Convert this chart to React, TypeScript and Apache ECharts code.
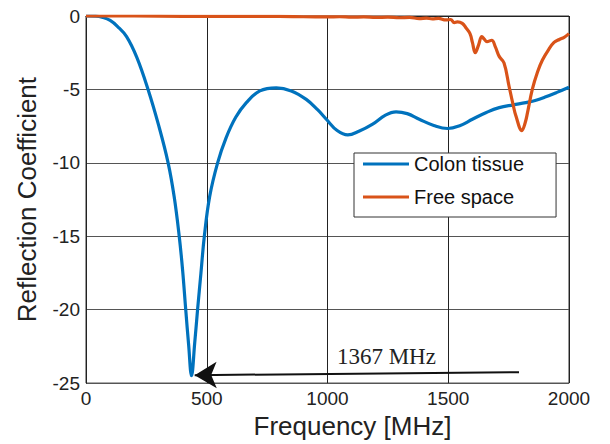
import React, { useEffect, useRef } from "react";
import * as echarts from "echarts";

// Colon tissue: [frequency MHz, reflection coefficient]
const colonFreq = [0, 40, 70, 100, 130, 168, 210, 257, 300, 340, 365, 386, 400, 413, 425, 437, 450, 462, 476, 490, 512, 545, 580, 620, 664, 720, 788, 850, 912, 960, 995, 1040, 1084, 1130, 1187, 1240, 1284, 1330, 1380, 1440, 1497, 1550, 1600, 1660, 1711, 1770, 1821, 1860, 1904, 1950, 2000];
const colonVal = [0, -0.01, -0.1, -0.3, -0.7, -1.4, -2.8, -5.0, -7.4, -10, -12.3, -15, -17.3, -20, -22.4, -24.5, -22.3, -20, -17.5, -15, -12.3, -10, -8.3, -6.9, -5.9, -5.1, -4.89, -5.1, -5.68, -6.4, -7.03, -7.8, -8.1, -7.85, -7.36, -6.75, -6.53, -6.65, -7.03, -7.45, -7.66, -7.45, -7.03, -6.55, -6.24, -6.05, -5.9, -5.75, -5.5, -5.2, -4.85];

// Free space
const freeFreq = [0, 200, 400, 600, 800, 900, 1000, 1050, 1100, 1150, 1200, 1250, 1297, 1340, 1380, 1410, 1434, 1460, 1490, 1510, 1525, 1538, 1558, 1573, 1590, 1600, 1612, 1625, 1639, 1650, 1660, 1680, 1695, 1711, 1731, 1752, 1768, 1780, 1805, 1818, 1828, 1848, 1870, 1890, 1915, 1938, 1960, 1980, 2000];
const freeVal = [0, 0, -0.02, -0.03, -0.03, -0.05, -0.06, -0.05, -0.08, -0.06, -0.1, -0.08, -0.12, -0.1, -0.18, -0.14, -0.2, -0.16, -0.27, -0.24, -0.45, -0.4, -0.5, -0.8, -1.2, -1.8, -2.5, -2.0, -1.4, -1.6, -1.75, -1.65, -2.1, -2.75, -3.2, -4.8, -6.0, -6.8, -7.8, -7.3, -6.6, -5.0, -3.8, -3.0, -2.3, -1.8, -1.6, -1.45, -1.2];

const seriesNames = ["Colon tissue", "Free space"];
const xTicks = [0, 500, 1000, 1500, 2000];
const yTicks = [0, -5, -10, -15, -20, -25];

const annotationText = "1367 MHz";
const annotationPos = [1244, -23.2];
const arrowStart = [1793, -24.26];
const arrowEnd = [450, -24.46];

const SANS = 'Arial, "Liberation Sans", Helvetica, sans-serif';
const SERIF = '"Times New Roman", "Liberation Serif", Times, serif';

export default function App() {
  const ref = useRef<HTMLDivElement>(null);
  useEffect(() => {
    if (!ref.current) return;
    const chart = echarts.init(ref.current, undefined, { renderer: "svg" });
    const colonData = colonFreq.map((f, i) => [f, colonVal[i]]);
    const freeData = freeFreq.map((f, i) => [f, freeVal[i]]);
    chart.setOption({
      animation: false,
      backgroundColor: "#ffffff",
      grid: {
        left: 86,
        right: 41,
        top: 16,
        bottom: 58,
        show: true,
        borderColor: "#333",
        borderWidth: 1,
      },
      legend: {
        data: seriesNames.map((n) => ({ name: n, icon: "rect" })),
        orient: "vertical",
        left: 354,
        top: 153,
        padding: [1, 32, 10, 9],
        itemGap: 13,
        itemWidth: 46,
        itemHeight: 3,
        backgroundColor: "#fff",
        borderColor: "#333",
        borderWidth: 1,
        borderRadius: 0,
        textStyle: { fontFamily: SANS, fontSize: 20, color: "#111", lineHeight: 20 },
      },
      xAxis: {
        type: "value",
        min: xTicks[0],
        max: xTicks[xTicks.length - 1],
        interval: 500,
        name: "Frequency [MHz]",
        nameLocation: "middle",
        nameGap: 27,
        nameTextStyle: { fontFamily: SANS, fontSize: 26, color: "#222", padding: [0, 0, 0, 50] },
        axisLine: { show: true, lineStyle: { color: "#222", width: 1 } },
        axisTick: { show: false },
        axisLabel: {
          fontFamily: SANS,
          fontSize: 19,
          color: "#222",
          margin: 6,
          formatter: (v: number) => String(v),
        },
        splitLine: { show: true, lineStyle: { color: "#222", width: 1 } },
      },
      yAxis: {
        type: "value",
        min: yTicks[yTicks.length - 1],
        max: yTicks[0],
        interval: 5,
        name: "Reflection Coefficient",
        nameLocation: "middle",
        nameGap: 46,
        nameTextStyle: { fontFamily: SANS, fontSize: 26, color: "#222" },
        axisLine: { show: true, lineStyle: { color: "#222", width: 1 } },
        axisTick: { show: false },
        axisLabel: {
          fontFamily: SANS,
          fontSize: 19,
          color: "#222",
          margin: 6,
          verticalAlign: "middle",
          padding: [0, 0, 12, 0],
          formatter: (v: number) => String(v),
        },
        splitLine: { show: true, lineStyle: { color: "#555", width: 1 } },
      },
      series: [
        {
          name: seriesNames[0],
          type: "line",
          data: colonData,
          showSymbol: false,
          symbol: "none",
          smooth: 0.4,
          lineStyle: { color: "#0072BD", width: 3.2 },
          itemStyle: { color: "#0072BD" },
          z: 3,
          markLine: {
            silent: true,
            symbol: ["none", "arrow"],
            symbolSize: [20, 22],
            lineStyle: { color: "#111", width: 2, type: "solid" },
            label: { show: false },
            data: [[{ coord: arrowStart }, { coord: arrowEnd }]],
          },
          markPoint: {
            silent: true,
            symbol: "circle",
            symbolSize: 0,
            label: {
              show: true,
              formatter: annotationText,
              fontFamily: SERIF,
              fontSize: 23,
              color: "#222",
              position: "inside",
            },
            data: [{ coord: annotationPos }],
          },
        },
        {
          name: seriesNames[1],
          type: "line",
          data: freeData,
          showSymbol: false,
          symbol: "none",
          smooth: 0.4,
          lineStyle: { color: "#D95319", width: 3.2 },
          itemStyle: { color: "#D95319" },
          z: 4,
        },
      ],
    });
    return () => chart.dispose();
  }, []);
  return (
    <div
      ref={ref}
      style={{ position: "fixed", left: 0, top: 0, width: 610, height: 444, background: "#fff" }}
    />
  );
}
